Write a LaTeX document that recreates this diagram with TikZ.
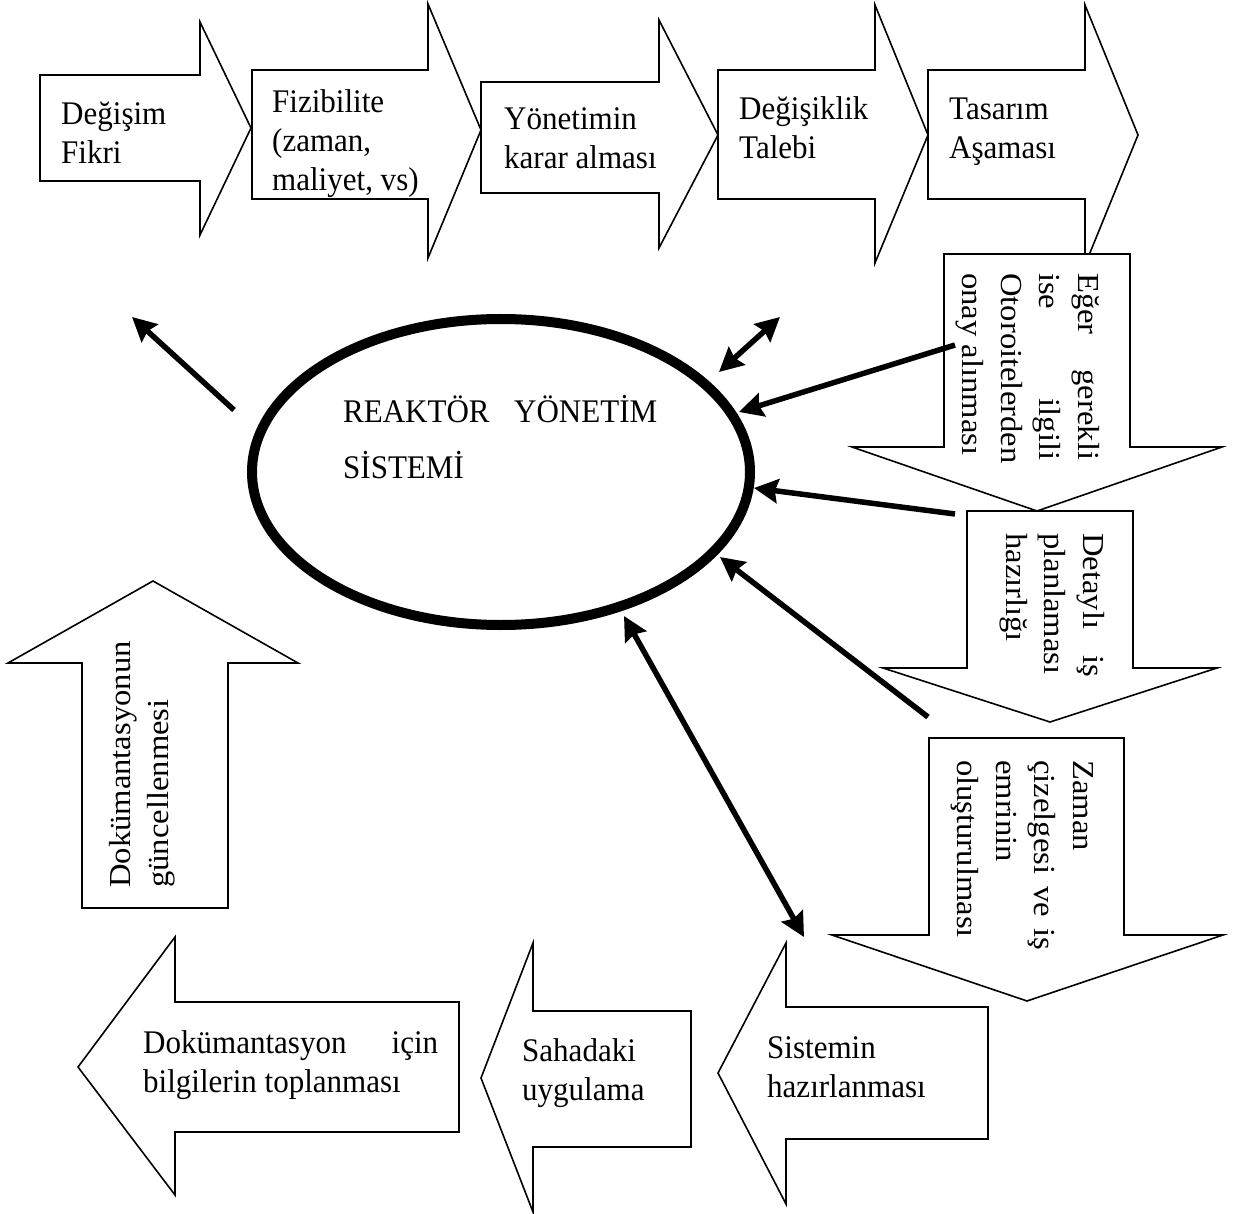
\documentclass[tikz,border=0pt]{standalone}
\usepackage{fontspec}
% upright text is set a little narrow, text running along the arrows a little wide
\setmainfont{Liberation Serif}[FakeStretch=0.94]
\newfontfamily\sidefont{Liberation Serif}[FakeStretch=1.07]
\usetikzlibrary{arrows.meta,shapes.geometric}
% stacked lines whose baseline is the baseline of the first line
\newcommand\txtlines[1]{\begin{tabular}[t]{@{}l@{}}#1\end{tabular}}
% a line spread to a fixed width (justified)
\newcommand\jst[2]{\makebox[#1pt][s]{#2}}

\begin{document}
\begin{tikzpicture}[x=1pt,y=-1pt,
  blockarrow/.style={draw=black, line width=1.6pt, fill=white, line join=miter},
  label/.style={inner sep=0pt, anchor=base west, font=\fontsize{33}{39}\selectfont},
  sidelabel/.style={inner sep=0pt, anchor=base west, font=\sidefont\fontsize{30.5}{38.5}\selectfont},
  link/.style={line width=5.5pt, -{Stealth[length=24pt,width=24pt,inset=3pt]}},
  duallink/.style={line width=5.5pt, {Stealth[length=24pt,width=24pt,inset=3pt]}-{Stealth[length=24pt,width=24pt,inset=3pt]}}]
\useasboundingbox (0,0) rectangle (1242,1214);

% ---- top row: process arrows pointing right
\path[blockarrow] (40,75) -- (200,75) -- (200,22) -- (251,128) -- (200,235) -- (200,181) -- (40,181) -- cycle;
\path[blockarrow] (252,70) -- (428,70) -- (428,4) -- (481,130) -- (428,258) -- (428,199) -- (252,199) -- cycle;
\path[blockarrow] (481,82) -- (659,82) -- (659,20) -- (718,135) -- (659,248) -- (659,193) -- (481,193) -- cycle;
\path[blockarrow] (718,70) -- (875,70) -- (875,5) -- (928,135) -- (875,263) -- (875,199) -- (718,199) -- cycle;
\path[blockarrow] (928,70) -- (1085,70) -- (1085,5) -- (1138,135) -- (1085,265) -- (1085,199) -- (928,199) -- cycle;

% ---- right column: arrows pointing down
\path[blockarrow] (944,254) -- (1130,254) -- (1130,447) -- (1222,447) -- (1037,511) -- (852,447) -- (944,447) -- cycle;
\path[blockarrow] (967,511) -- (1133,511) -- (1133,668) -- (1217,668) -- (1050,722) -- (883,668) -- (967,668) -- cycle;
\path[blockarrow] (929,738) -- (1124,738) -- (1124,935) -- (1223,935) -- (1027,1001) -- (832,935) -- (929,935) -- cycle;

% ---- bottom row: arrows pointing left
\path[blockarrow] (988,1007) -- (786,1007) -- (786,943) -- (718,1073) -- (786,1204) -- (786,1139) -- (988,1139) -- cycle;
\path[blockarrow] (691,1011) -- (533,1011) -- (533,943) -- (481,1078) -- (533,1212) -- (533,1147) -- (691,1147) -- cycle;
\path[blockarrow] (459,1002) -- (175,1002) -- (175,937) -- (78,1067) -- (175,1195) -- (175,1132) -- (459,1132) -- cycle;

% ---- left: arrow pointing up
\path[blockarrow] (82,908) -- (82,663) -- (8,663) -- (153,581) -- (298,663) -- (228,663) -- (228,908) -- cycle;

% ---- central system
\node[ellipse, draw, line width=10pt, minimum width=498pt, minimum height=306pt, inner sep=0pt] (rys) at (501,472) {};
\node[label] (rystxt) at (343,422) {\fontsize{33}{56}\selectfont\txtlines{\jst{314}{REAKTÖR YÖNETİM}\\ SİSTEMİ}};

% ---- texts of the top row
\node[label] (t1) at (61,125) {\txtlines{Değişim\\ Fikri}};
\node[label] (t2) at (272,113) {\txtlines{Fizibilite\\ (zaman,\\ maliyet, vs)}};
\node[label] (t3) at (504,130) {\txtlines{Yönetimin\\ karar alması}};
\node[label] (t4) at (739,120) {\txtlines{Değişiklik\\ Talebi}};
\node[label] (t5) at (949,120) {\txtlines{Tasarım\\ Aşaması}};

% ---- texts of the right column (read downwards)
\node[sidelabel, rotate=-90] (d1) at (1078,273) {\txtlines{\jst{187}{Eğer gerekli}\\ \jst{187}{ise ilgili}\\ Otoroitelerden\\ onay alınması}};
\node[sidelabel, rotate=-90] (d2) at (1083,533) {\txtlines{\jst{144}{Detaylı iş}\\ planlaması\\ hazırlığı}};
\node[sidelabel, rotate=-90] (d3) at (1073,760) {\txtlines{Zaman\\ \jst{190}{çizelgesi ve iş}\\ emrinin\\ oluşturulması}};

% ---- texts of the bottom row
\node[label] (b3) at (767,1058) {\txtlines{Sistemin\\ hazırlanması}};
\node[label] (b2) at (522,1061) {\txtlines{Sahadaki\\ uygulama}};
\node[label] (b1) at (143,1053) {\txtlines{\jst{295}{Dokümantasyon için}\\ bilgilerin toplanması}};

% ---- text of the up arrow (reads upwards)
\node[sidelabel, rotate=90] (u1) at (130,888) {\txtlines{Dokümantasyonun\\ güncellenmesi}};

% ---- connector end points
\coordinate (c1a) at (234,410);  \coordinate (c1b) at (132,317);
\coordinate (c2a) at (719,372);  \coordinate (c2b) at (780,317);
\coordinate (c3a) at (955,345);  \coordinate (c3b) at (739,412);
\coordinate (c4a) at (955,514);  \coordinate (c4b) at (754,488);
\coordinate (c5a) at (928,717);  \coordinate (c5b) at (720,557);
\coordinate (c6a) at (624,616);  \coordinate (c6b) at (804,937);

% ---- connectors around the system
\draw[link] (c1a) -- (c1b);
\draw[duallink] (c2a) -- (c2b);
\draw[link] (c3a) -- (c3b);
\draw[link] (c4a) -- (c4b);
\draw[link] (c5a) -- (c5b);
\draw[duallink] (c6a) -- (c6b);
\end{tikzpicture}
\end{document}
